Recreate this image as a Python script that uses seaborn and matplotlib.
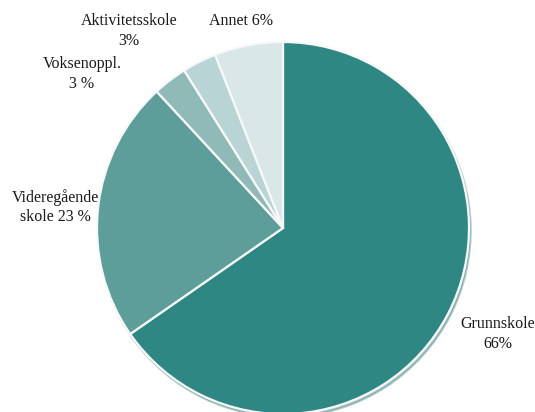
import matplotlib
matplotlib.use("Agg")
import matplotlib.pyplot as plt
import seaborn as sns

# data
kategorier = ["Grunnskole", "Videregående skole", "Voksenoppl.", "Aktivitetsskole", "Annet"]
andeler = [66, 23, 3, 3, 6]
etiketter = ["Grunnskole\n66%", "Videregående\nskole 23 %", "Voksenoppl.\n3 %", "Aktivitetsskole\n3%", "Annet 6%"]
farger = ["#2e8782", "#5d9e9a", "#90bab8", "#b9d4d5", "#d9e7e8"]

sns.set_theme(style="white")
plt.rcParams["font.family"] = ["Liberation Serif", "DejaVu Serif"]

W, H = 535, 412
fig = plt.figure(figsize=(W / 100, H / 100), dpi=100)
ax = fig.add_axes([0, 0, 1, 1])

# pixel-like coordinates so the pie can sit where it does in the reference
senter = (283, H - 228)
radius = 186
kiler, _ = ax.pie(
    andeler,
    colors=sns.color_palette(farger),
    startangle=90,
    counterclock=False,
    radius=radius,
    center=senter,
    wedgeprops={"edgecolor": "#f7f8f8", "linewidth": 1.6},
    shadow={"ox": 1.2, "oy": -2.0, "shade": 0.15, "alpha": 0.35},
)

# label positions (pixels from top-left)
plasseringer = [(498, 334), (55, 207), (82, 74), (129, 31), (241, 21)]
for tekst, (x, y) in zip(etiketter, plasseringer):
    ax.text(x, H - y, tekst, ha="center", va="center", fontsize=11.5, color="#1a1a1a", linespacing=1.3)

ax.set_xlim(0, W)
ax.set_ylim(0, H)
ax.set_aspect("equal")
ax.axis("off")

plt.savefig("out.png", dpi=100)
plt.close()
